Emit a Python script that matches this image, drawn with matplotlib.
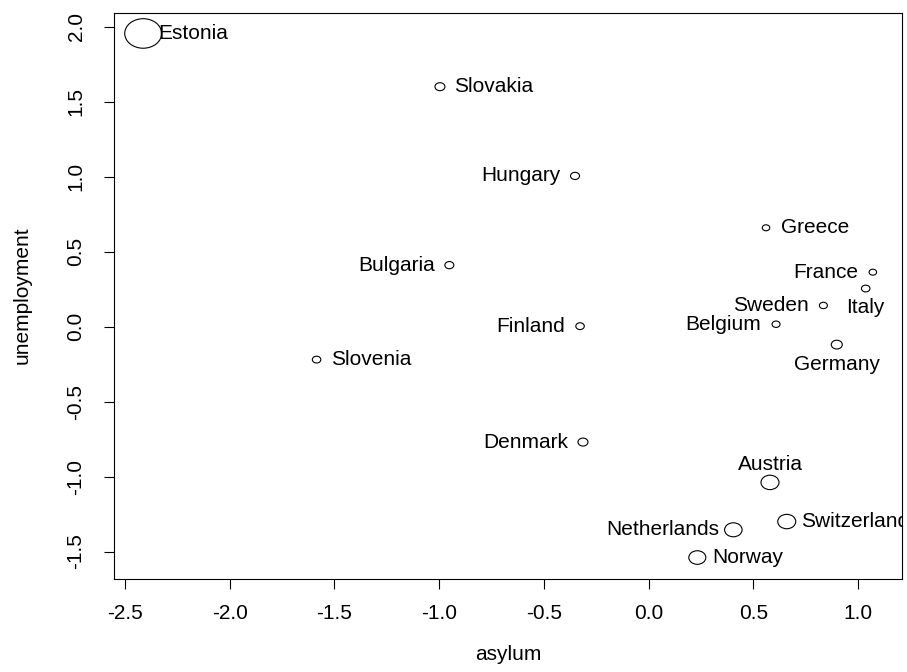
import numpy as np
import matplotlib
matplotlib.use('Agg')
import matplotlib.pyplot as plt
from matplotlib.path import Path
from matplotlib.markers import MarkerStyle

# Countries and their positions
countries = ['Estonia', 'Slovakia', 'Hungary', 'Greece', 'France', 'Italy',
             'Sweden', 'Belgium', 'Germany', 'Bulgaria', 'Finland', 'Slovenia',
             'Denmark', 'Austria', 'Switzerland', 'Netherlands', 'Norway']
asylum = [-2.413, -0.996, -0.351, 0.561, 1.071, 1.037,
          0.835, 0.609, 0.899, -0.951, -0.327, -1.585,
          -0.313, 0.580, 0.660, 0.405, 0.233]
unemployment = [1.955, 1.600, 1.005, 0.659, 0.363, 0.254,
                0.141, 0.016, -0.120, 0.410, 0.003, -0.220,
                -0.770, -1.039, -1.300, -1.355, -1.540]
# Bubble weights
weight = [4.43, 1.20, 1.08, 0.90, 0.90, 1.02,
          0.96, 0.96, 1.32, 1.08, 1.02, 1.02,
          1.20, 2.16, 2.16, 2.10, 2.04]
# Label side: r, l, t, b
label_pos = ['r', 'r', 'l', 'r', 'l', 'b',
             'l', 'l', 'b', 'l', 'l', 'r',
             'l', 't', 'r', 'l', 'r']

plt.rcParams['font.family'] = ['Liberation Sans', 'DejaVu Sans']
fs = 15

fig = plt.figure(figsize=(9.07, 6.72), dpi=100)
ax = fig.add_axes([114 / 907, 1 - 578.5 / 672, 788 / 907, 566 / 672])

# open, slightly wide circles (like the stretched original)
circ = Path.unit_circle()
ell = MarkerStyle(Path(circ.vertices * [1.0, 0.8], circ.codes))
sizes = (6 * np.array(weight)) ** 2
ax.scatter(asylum, unemployment, s=sizes, marker=ell,
           facecolors='none', edgecolors='black', linewidths=0.8, zorder=3)

offsets = {'r': ((10.5, 0), 'left', 'center'),
           'l': ((-10.5, 0), 'right', 'center'),
           't': ((0, 13), 'center', 'center'),
           'b': ((0, -14), 'center', 'center')}
for name, x, y, p in zip(countries, asylum, unemployment, label_pos):
    off, ha, va = offsets[p]
    t = ax.annotate(name, (x, y), xytext=off, textcoords='offset points',
                    ha=ha, va=va, fontsize=fs)
    # labels are cut at the plot box
    t.set_clip_on(True)
    t.set_clip_path(ax.patch)

# R-style axis range (4% padding)
xr = max(asylum) - min(asylum)
yr = max(unemployment) - min(unemployment)
ax.set_xlim(min(asylum) - 0.04 * xr, max(asylum) + 0.04 * xr)
ax.set_ylim(min(unemployment) - 0.04 * yr, max(unemployment) + 0.04 * yr)

ax.set_xticks(np.arange(-2.5, 1.01, 0.5))
ax.set_yticks(np.arange(-1.5, 2.01, 0.5))
ax.set_xticklabels(['%.1f' % v for v in np.arange(-2.5, 1.01, 0.5)])
ax.set_yticklabels(['%.1f' % v for v in np.arange(-1.5, 2.01, 0.5)],
                   rotation=90, va='center')
ax.tick_params(direction='out', length=7.5, width=0.8, labelsize=fs)
ax.tick_params(axis='x', pad=11)
ax.tick_params(axis='y', pad=13)
for s in ax.spines.values():
    s.set_linewidth(0.8)

ax.set_xlabel('asylum', fontsize=fs)
ax.set_ylabel('unemployment', fontsize=fs)
ax.xaxis.set_label_coords(0.5, -0.135)
ax.xaxis.label.set_va('center')
ax.yaxis.set_label_coords(-0.117, 0.5)
ax.yaxis.label.set_va('center')

fig.savefig('out.png', dpi=100)
